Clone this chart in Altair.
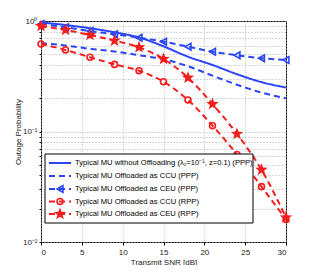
import math
import altair as alt
import pandas as pd

snr = [0, 3, 6, 9, 12, 15, 18, 21, 24, 27, 30]

no_off_ppp = [0.97, 0.92, 0.86, 0.79, 0.71, 0.59, 0.475, 0.40, 0.33, 0.28, 0.25]
ccu_ppp = [0.63, 0.60, 0.56, 0.53, 0.49, 0.45, 0.39, 0.32, 0.265, 0.225, 0.20]
ceu_ppp = [0.94, 0.877, 0.81, 0.76, 0.706, 0.65, 0.586, 0.527, 0.49, 0.46, 0.444]
ccu_rpp = [0.62, 0.547, 0.47, 0.405, 0.355, 0.282, 0.193, 0.113, 0.062, 0.0317, 0.016]
ceu_rpp = [0.90, 0.83, 0.747, 0.664, 0.578, 0.453, 0.307, 0.177, 0.095, 0.045, 0.0167]

labels = [
    "Typical MU without Offloading (λ₁=10⁻¹, z=0.1) (PPP)",
    "Typical MU Offloaded as CCU (PPP)",
    "Typical MU Offloaded as CEU (PPP)",
    "Typical MU Offloaded as CCU (RPP)",
    "Typical MU Offloaded as CEU (RPP)",
]

BLUE = "#2a45f5"
RED = "#f51d1d"
FONT = "Liberation Sans"

# 5-pointed star symbol path (unit coordinates)
pts = []
for k in range(10):
    r = 1.0 if k % 2 == 0 else 0.42
    a = -math.pi / 2 + k * math.pi / 5
    pts.append(f"{r * math.cos(a):.3f},{r * math.sin(a):.3f}")
STAR = "M" + "L".join(pts) + "Z"

series = [
    (no_off_ppp, BLUE, [1, 0], None),
    (ccu_ppp, BLUE, [6, 4], None),
    (ceu_ppp, BLUE, [6, 4], "triangle-left"),
    (ccu_rpp, RED, [6, 4], "circle"),
    (ceu_rpp, RED, [6, 4], "star"),
]

xscale = alt.Scale(domain=[0, 30], nice=False)
yscale = alt.Scale(type="log", domain=[0.01, 1], nice=False)

yvals = [round(k * 0.01, 4) for k in range(1, 10)] + [round(k * 0.1, 3) for k in range(1, 10)] + [1]
xaxis = alt.Axis(values=[0, 5, 10, 15, 20, 25, 30], title="Transmit SNR [dB]",
                 grid=True, gridDash=[1, 2], gridColor="#b0b0b0", tickSize=3,
                 labelFontSize=8, titleFontSize=8, titleFontWeight="normal",
                 labelFont=FONT, titleFont=FONT, titlePadding=2, labelPadding=3,
                 domain=False, tickColor="black", labelColor="#222", titleColor="#222")
yaxis = alt.Axis(values=yvals, title="Outage Probability",
                 labelExpr="datum.value == 1 ? '10⁰' : (datum.value == 0.1 ? '10⁻¹' : (datum.value == 0.01 ? '10⁻²' : ''))",
                 grid=True, gridDash=[1, 2], gridColor="#b0b0b0", tickSize=2,
                 labelFontSize=8, titleFontSize=8, titleFontWeight="normal",
                 labelFont=FONT, titleFont=FONT, titlePadding=0, labelPadding=2,
                 domain=False, tickColor="black", labelColor="#222", titleColor="#222")


def marker(data, shape, col, enc):
    if shape == "star":
        return alt.Chart(data).mark_point(shape=STAR, filled=True, color=col,
                                          size=170, opacity=1).encode(**enc)
    return alt.Chart(data).mark_point(shape=shape, filled=False, color=col,
                                      size=35 if shape == "circle" else 45,
                                      strokeWidth=1.6, opacity=1).encode(**enc)


layers = []
for i, (vals, col, dash, shape) in enumerate(series):
    df = pd.DataFrame({"snr": snr, "p": vals})
    enc = dict(x=alt.X("snr:Q", scale=xscale, axis=xaxis),
               y=alt.Y("p:Q", scale=yscale, axis=yaxis))
    layers.append(alt.Chart(df).mark_line(color=col, strokeDash=dash, strokeWidth=2,
                                          interpolate="monotone").encode(**enc))
    if shape is not None:
        layers.append(marker(df, shape, col, enc))

# legend box
one = pd.DataFrame({"a": [0]})
layers.append(alt.Chart(one).mark_rect(fill="white", stroke="black", strokeWidth=1).encode(
    x=alt.value(4), x2=alt.value(212), y=alt.value(133), y2=alt.value(202)))
ly = [142, 155, 168, 180.5, 193]
for i, (vals, col, dash, shape) in enumerate(series):
    yy = ly[i]
    ldf = pd.DataFrame({"label": [labels[i]]})
    layers.append(alt.Chart(ldf).mark_rule(color=col, strokeDash=dash, strokeWidth=2).encode(
        x=alt.value(8), x2=alt.value(30), y=alt.value(yy)))
    if shape is not None:
        layers.append(marker(ldf, shape, col, dict(x=alt.value(19), y=alt.value(yy))))
    layers.append(alt.Chart(ldf).mark_text(align="left", baseline="middle", fontSize=7.6,
                                           font=FONT, color="black").encode(
        x=alt.value(34), y=alt.value(yy), text="label:N"))

chart = alt.layer(*layers).properties(
    width=245, height=221,
    background="white",
    autosize=alt.AutoSizeParams(type="none"),
    padding={"left": 33, "top": 13, "right": 22, "bottom": 23},
).configure_view(stroke="black", strokeWidth=1)

chart.save("out.html", embed_options={"renderer": "svg", "actions": False})
